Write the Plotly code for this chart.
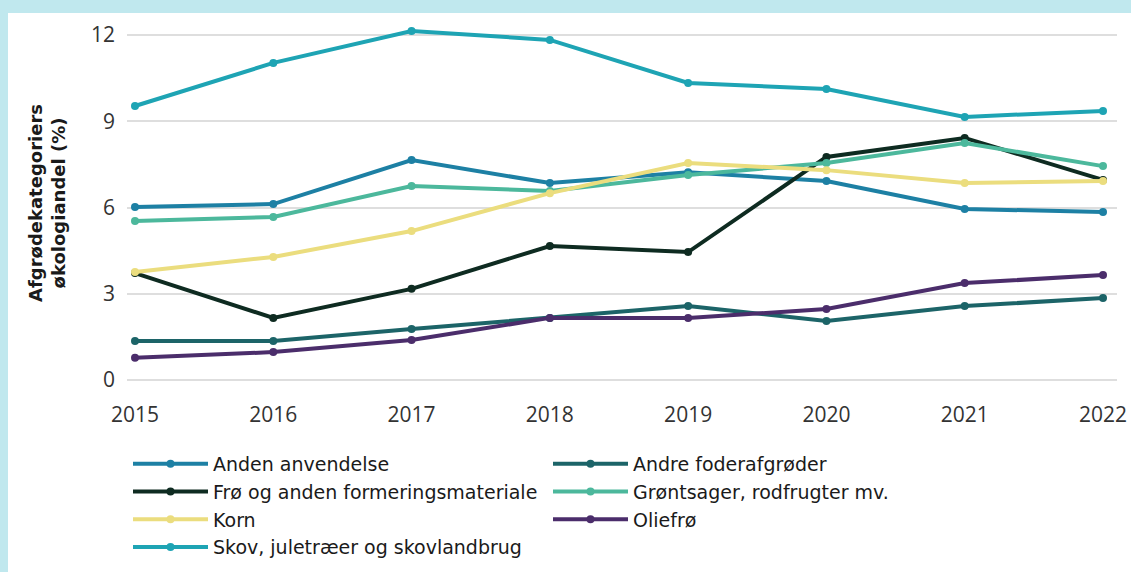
import plotly.graph_objects as go

years = [2015, 2016, 2017, 2018, 2019, 2020, 2021, 2022]

anden_anvendelse = [6.02, 6.12, 7.65, 6.85, 7.23, 6.92, 5.95, 5.84]
andre_foderafgroeder = [1.36, 1.36, 1.77, 2.16, 2.57, 2.05, 2.57, 2.85]
froe = [3.72, 2.16, 3.17, 4.66, 4.45, 7.76, 8.42, 6.96]
groentsager = [5.53, 5.67, 6.75, 6.57, 7.13, 7.55, 8.24, 7.44]
korn = [3.76, 4.28, 5.18, 6.50, 7.55, 7.30, 6.85, 6.92]
oliefroe = [0.77, 0.97, 1.39, 2.16, 2.16, 2.47, 3.37, 3.65]
skov = [9.53, 11.03, 12.14, 11.83, 10.33, 10.12, 9.15, 9.36]

y_ticks = [0, 3, 6, 9, 12]
y_title = "<b>Afgrødekategoriers<br>økologiandel (%)</b>"

series = [
    ("Anden anvendelse", anden_anvendelse, "#1d80a4", "legend"),
    ("Andre foderafgrøder", andre_foderafgroeder, "#1c6468", "legend2"),
    ("Frø og anden formeringsmateriale", froe, "#0e2b21", "legend"),
    ("Grøntsager, rodfrugter mv.", groentsager, "#4cb89c", "legend2"),
    ("Korn", korn, "#ebdd7e", "legend"),
    ("Oliefrø", oliefroe, "#4b2d6b", "legend2"),
    ("Skov, juletræer og skovlandbrug", skov, "#1ea4b4", "legend"),
]

fig = go.Figure()
for name, vals, col, leg in series:
    fig.add_trace(go.Scatter(
        x=years, y=vals, name=name, mode="lines+markers",
        line=dict(color=col, width=4),
        marker=dict(color=col, size=8),
        legend=leg,
    ))

W, H = 1131, 572
ml, mr, mt, mb = 127, 14, 26, 186
pw = W - ml - mr
ph = H - mt - mb

def px_x(p):
    return (p - ml) / pw

def px_y(p):
    return (H - mb - p) / ph

fig.add_shape(type="rect", xref="paper", yref="paper",
              x0=px_x(8), x1=px_x(W + 5), y0=px_y(H + 5), y1=px_y(13),
              fillcolor="white", line=dict(width=0), layer="below")

fig.add_annotation(text=y_title, xref="paper", yref="paper",
                   x=px_x(47), y=px_y(203), textangle=-90, showarrow=False,
                   font=dict(family="DejaVu Sans", size=18, color="#1a1a1a"),
                   xanchor="center", yanchor="middle")

legend_common = dict(
    orientation="v", xanchor="left", yanchor="top",
    font=dict(family="DejaVu Sans", size=19, color="#1a1a1a"),
    bgcolor="rgba(0,0,0,0)", itemwidth=75, traceorder="normal",
)

fig.update_layout(
    width=W, height=H,
    margin=dict(l=ml, r=mr, t=mt, b=mb, autoexpand=False),
    paper_bgcolor="#c0e8ee",
    plot_bgcolor="white",
    showlegend=True,
    legend=dict(x=px_x(128), y=px_y(445), **legend_common),
    legend2=dict(x=px_x(548), y=px_y(445), **legend_common),
    xaxis=dict(
        range=[2015 - 8 / 138.29, 2022 + 14 / 138.29],
        tickvals=years, ticktext=[str(y) for y in years],
        showgrid=False, zeroline=False, showline=False,
        tickfont=dict(family="Open Sans", size=21, color="#333"),
        ticklabelstandoff=14,
    ),
    yaxis=dict(
        range=[-6 / 28.75, 12 + 9 / 28.75],
        tickvals=y_ticks,
        showgrid=True, gridcolor="#dedede", gridwidth=1.5,
        zeroline=False, showline=False,
        tickfont=dict(family="Open Sans", size=21, color="#333"),
        ticklabelstandoff=11,
    ),
)

fig.write_html(
    "out.html",
    config={"displayModeBar": False},
    post_script="document.body.style.margin='0';document.body.style.background='#c0e8ee';",
)
